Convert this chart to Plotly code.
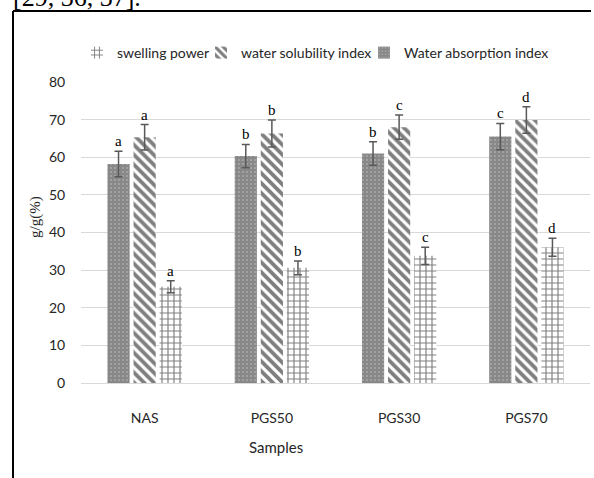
import plotly.graph_objects as go

# ---- data ----
samples = ["NAS", "PGS50", "PGS30", "PGS70"]
series_names = ["swelling power", "water solubility index", "Water absorption index"]
swelling = [58.2, 60.3, 61.0, 65.5]
swelling_err = [3.4, 3.1, 3.1, 3.5]
solubility = [65.3, 66.3, 68.0, 69.9]
solubility_err = [3.4, 3.6, 3.2, 3.5]
absorption = [25.6, 30.6, 33.8, 36.1]
absorption_err = [1.6, 1.8, 2.3, 2.4]
letters = [["a", "b", "b", "c"], ["a", "b", "c", "d"], ["a", "b", "c", "d"]]
y_ticks = [0, 10, 20, 30, 40, 50, 60, 70, 80]

# ---- layout geometry (pixels) ----
W, H = 594, 478
ML, MR, MT, MB = 81, 4, 82, 95
PW, PH = W - ML - MR, H - MT - MB
BARGAP = 0.385
BARGROUPGAP = 0.15


def px_x(p):
    return (p - ML) / PW


def px_y(p):
    return (H - MB - p) / PH


SANS = "Lato, Roboto, sans-serif"
SERIF = "Liberation Serif, Times New Roman, serif"

pat_dense = dict(shape=".", bgcolor="#888888", fgcolor="#ffffff", size=4, solidity=0.12)
pat_diag = dict(shape="\\", bgcolor="#ffffff", fgcolor="#000000", size=7, solidity=0.55)
pat_brick = dict(shape="+", bgcolor="#ffffff", fgcolor="#000000", size=6, solidity=0.35)

vals = [swelling, solubility, absorption]
errs = [swelling_err, solubility_err, absorption_err]
pats = [pat_dense, pat_diag, pat_brick]

fig = go.Figure()
for name, v, e, p in zip(series_names, vals, errs, pats):
    fig.add_trace(go.Bar(
        x=samples, y=v, name=name, showlegend=False,
        marker=dict(color=p["bgcolor"], line=dict(width=0), pattern=p),
        error_y=dict(type="data", array=e, visible=True, color="#595959",
                     thickness=1.5, width=4),
    ))

# legend entries (patterns as shown in the reference legend), one legend each
legend_pats = [pat_brick, pat_diag, pat_dense]
legend_ids = ["legend", "legend2", "legend3"]
legend_text_x = [117, 241, 404]
for name, p, lid in zip(series_names, legend_pats, legend_ids):
    fig.add_trace(go.Bar(
        x=[None], y=[None], name=name, xaxis="x2", yaxis="y2", legend=lid,
        marker=dict(color=p["bgcolor"], line=dict(width=0), pattern=p),
    ))

# significance letters
band = PW / len(samples)
slot = band * (1 - BARGAP) / 3
annotations = []
for i, (v, e, ls) in enumerate(zip(vals, errs, letters)):
    for j, s in enumerate(samples):
        annotations.append(dict(
            x=s, xref="x", y=v[j] + e[j], yref="y", text=ls[j],
            showarrow=False, yanchor="bottom", xshift=(i - 1) * slot,
            font=dict(family=SERIF, size=15, color="#000000"),
        ))

annotations.append(dict(
    x=px_x(276), y=px_y(447), xref="paper", yref="paper", text="Samples",
    showarrow=False, xanchor="center", yanchor="middle",
    font=dict(family=SANS, size=15, color="#262626"),
))
annotations.append(dict(
    x=px_x(35), y=px_y(217), xref="paper", yref="paper", text="g/g(%)",
    showarrow=False, textangle=-90, xanchor="center", yanchor="middle",
    font=dict(family=SERIF, size=15, color="#262626"),
))
annotations.append(dict(
    x=px_x(11), y=px_y(-2), xref="paper", yref="paper", text="[29, 36, 37].",
    showarrow=False, xanchor="left", yanchor="middle",
    font=dict(family=SERIF, size=26, color="#000000"),
))

shapes = [
    dict(type="line", xref="paper", yref="paper", x0=px_x(13), x1=px_x(591),
         y0=px_y(11), y1=px_y(11), line=dict(color="#000000", width=2)),
    dict(type="line", xref="paper", yref="paper", x0=px_x(13), x1=px_x(13),
         y0=px_y(11), y1=px_y(480), line=dict(color="#000000", width=2)),
]

legend_common = dict(orientation="h", xanchor="left", yanchor="middle",
                     font=dict(family=SANS, size=14, color="#262626"),
                     bgcolor="rgba(0,0,0,0)", itemsizing="constant")

fig.update_layout(
    width=W, height=H,
    margin=dict(l=ML, r=MR, t=MT, b=MB, pad=0, autoexpand=False),
    paper_bgcolor="#ffffff", plot_bgcolor="#ffffff",
    barmode="group", bargap=BARGAP, bargroupgap=BARGROUPGAP,
    font=dict(family=SANS, size=14, color="#262626"),
    xaxis=dict(type="category", showgrid=False, showline=False, zeroline=False,
               ticks="outside", ticklen=22, tickcolor="rgba(0,0,0,0)",
               tickfont=dict(family=SANS, size=14, color="#262626")),
    yaxis=dict(range=[0, 80], tickvals=y_ticks, showgrid=True, gridcolor="#d9d9d9",
               gridwidth=1, zeroline=True, zerolinecolor="#d9d9d9", zerolinewidth=1,
               showline=False, ticks="outside", ticklen=12, tickcolor="rgba(0,0,0,0)",
               tickfont=dict(family=SANS, size=14, color="#262626")),
    xaxis2=dict(visible=False, overlaying="x"),
    yaxis2=dict(visible=False, overlaying="y", range=[0, 1]),
    legend=dict(x=px_x(legend_text_x[0] - 40), y=px_y(53), **legend_common),
    legend2=dict(x=px_x(legend_text_x[1] - 40), y=px_y(53), **legend_common),
    legend3=dict(x=px_x(legend_text_x[2] - 40), y=px_y(53), **legend_common),
    annotations=annotations,
    shapes=shapes,
)

fig.write_html(
    "out.html",
    config={"displayModeBar": False},
    post_script="document.body.style.margin='0';document.body.style.overflow='hidden';",
)
